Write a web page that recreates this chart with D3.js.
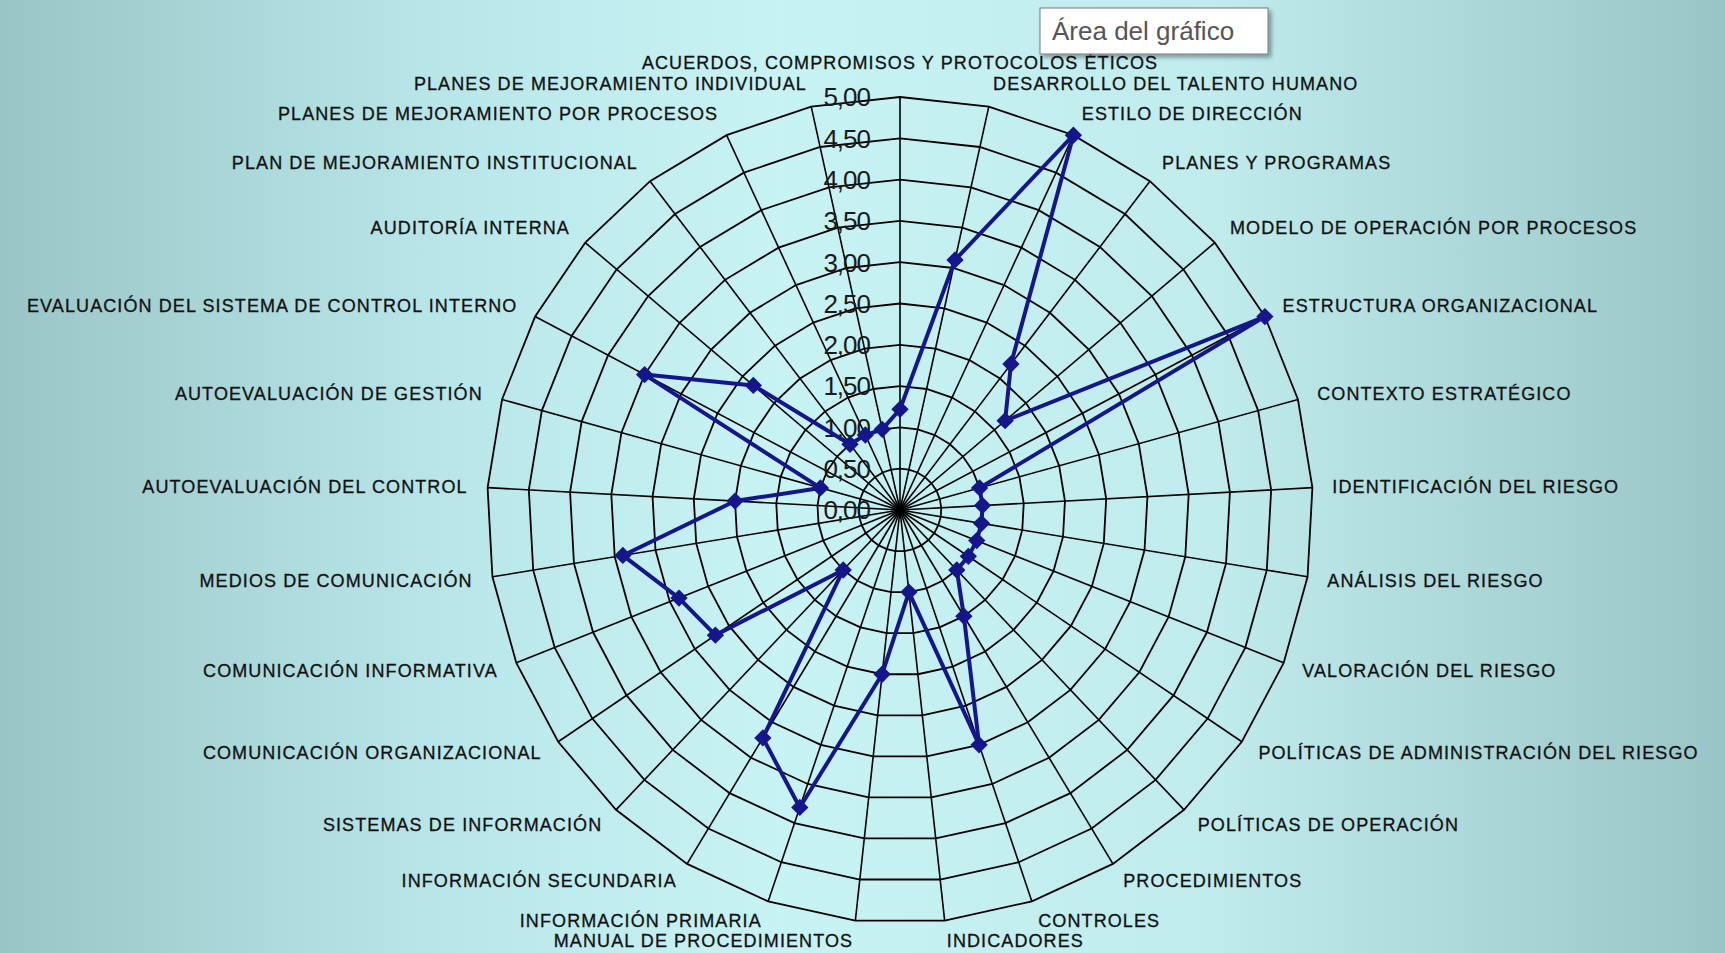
<!DOCTYPE html>
<html>
<head>
<meta charset="utf-8">
<script src="https://cdn.jsdelivr.net/npm/d3@7"></script>
<style>
  html, body { margin: 0; padding: 0; overflow: hidden; }
  body { width: 1725px; height: 953px; }
  text { font-family: "Liberation Sans", Arial, sans-serif; }
</style>
</head>
<body>
<div id="radar"></div>
<script>
// categories, clockwise from the top
var categories = [
  "ACUERDOS, COMPROMISOS Y PROTOCOLOS ÉTICOS",
  "DESARROLLO DEL TALENTO HUMANO",
  "ESTILO DE DIRECCIÓN",
  "PLANES Y PROGRAMAS",
  "MODELO DE OPERACIÓN POR PROCESOS",
  "ESTRUCTURA ORGANIZACIONAL",
  "CONTEXTO ESTRATÉGICO",
  "IDENTIFICACIÓN DEL RIESGO",
  "ANÁLISIS DEL RIESGO",
  "VALORACIÓN DEL RIESGO",
  "POLÍTICAS DE ADMINISTRACIÓN DEL RIESGO",
  "POLÍTICAS DE OPERACIÓN",
  "PROCEDIMIENTOS",
  "CONTROLES",
  "INDICADORES",
  "MANUAL DE PROCEDIMIENTOS",
  "INFORMACIÓN PRIMARIA",
  "INFORMACIÓN SECUNDARIA",
  "SISTEMAS DE INFORMACIÓN",
  "COMUNICACIÓN ORGANIZACIONAL",
  "COMUNICACIÓN INFORMATIVA",
  "MEDIOS DE COMUNICACIÓN",
  "AUTOEVALUACIÓN DEL CONTROL",
  "AUTOEVALUACIÓN DE GESTIÓN",
  "EVALUACIÓN DEL SISTEMA DE CONTROL INTERNO",
  "AUDITORÍA INTERNA",
  "PLAN DE MEJORAMIENTO INSTITUCIONAL",
  "PLANES DE MEJORAMIENTO POR PROCESOS",
  "PLANES DE MEJORAMIENTO INDIVIDUAL"
];

// series values
var scores = [
  1.22, 3.1, 5.0, 2.22, 1.67, 5.0, 1.0, 1.0, 1.0, 1.0,
  1.0, 1.0, 1.5, 3.0, 1.0, 2.0, 3.8, 3.22, 1.0, 2.7,
  2.88, 3.4, 2.0, 1.0, 3.5, 2.33, 1.0, 1.0, 1.0
];

// radial tick values and their labels
var ticks = [0, 0.5, 1, 1.5, 2, 2.5, 3, 3.5, 4, 4.5, 5];
var tickLabels = ["0,00", "0,50", "1,00", "1,50", "2,00", "2,50", "3,00", "3,50", "4,00", "4,50", "5,00"];

var width = 1725;
var height = 953;
var cx = 900, cy = 510;
var outer = 413;

var svg = d3.select('#radar').append('svg')
  .attr("width", width)
  .attr("height", height);

// background
var defs = svg.append("defs");
var bg = defs.append("linearGradient").attr("id", "bg")
  .attr("x1", "0%").attr("x2", "100%").attr("y1", "0%").attr("y2", "0%");
bg.append("stop").attr("offset", "0%").attr("stop-color", "#9ac5c7");
bg.append("stop").attr("offset", "25%").attr("stop-color", "#b8e6e8");
bg.append("stop").attr("offset", "45%").attr("stop-color", "#c8f3f5");
bg.append("stop").attr("offset", "70%").attr("stop-color", "#c0ecee");
bg.append("stop").attr("offset", "100%").attr("stop-color", "#9ac5c7");
svg.append("rect").attr("width", width).attr("height", height).attr("fill", "url(#bg)");

var shadow = defs.append("filter").attr("id", "shadow")
  .attr("x", "-10%").attr("y", "-20%").attr("width", "130%").attr("height", "160%");
shadow.append("feDropShadow").attr("dx", 3).attr("dy", 3).attr("stdDeviation", 2)
  .attr("flood-color", "#000").attr("flood-opacity", 0.35);

//scalers
var angle = d3.scalePoint()
  .domain(d3.range(categories.length))
  .range([0, 2 * Math.PI * (categories.length - 1) / categories.length]);
var r = d3.scaleLinear().domain([0, 5]).range([0, outer]);

var g = svg.append("g").attr("transform", "translate(" + cx + "," + cy + ")");

// rings
var ring = d3.lineRadial()
  .angle(function(d) { return angle(d); })
  .curve(d3.curveLinearClosed);
g.selectAll(".ring")
  .data(ticks.slice(1))
  .enter()
  .append("path")
  .attr("class", "ring")
  .attr("d", function(t) { return ring.radius(r(t))(d3.range(categories.length)); })
  .attr("fill", "none")
  .attr("stroke", "#000")
  .attr("stroke-width", 1.8);

// spokes
g.selectAll(".spoke")
  .data(d3.range(categories.length))
  .enter()
  .append("line")
  .attr("class", "spoke")
  .attr("x1", 0).attr("y1", 0)
  .attr("x2", function(i) { return r(5) * Math.sin(angle(i)); })
  .attr("y2", function(i) { return -r(5) * Math.cos(angle(i)); })
  .attr("stroke", "#000")
  .attr("stroke-width", 1.6);

// tick labels along the top axis
g.selectAll(".tick")
  .data(ticks)
  .enter()
  .append("text")
  .attr("class", "tick")
  .attr("x", -30)
  .attr("y", function(t) { return -r(t); })
  .attr("dy", "0.36em")
  .attr("text-anchor", "end")
  .attr("font-size", 26)
  .attr("letter-spacing", -1)
  .attr("fill", "#1a1a1a")
  .text(function(t, i) { return tickLabels[i]; });

// category labels
g.selectAll(".cat")
  .data(categories)
  .enter()
  .append("text")
  .attr("class", "cat")
  .attr("x", function(d, i) { return (r(5) + 20) * Math.sin(angle(i)); })
  .attr("y", function(d, i) {
    var a = angle(i);
    var y = -(r(5) + 20) * Math.cos(a);
    if (Math.abs(Math.sin(a)) < 0.05) return y - 14;
    return Math.cos(a) > 0 ? y - 4 * Math.cos(a) : y;
  })
  .attr("dy", "0.36em")
  .attr("text-anchor", function(d, i) {
    var s = Math.sin(angle(i));
    if (Math.abs(s) < 0.05) return "middle";
    return s > 0 ? "start" : "end";
  })
  .attr("font-size", 18)
  .attr("letter-spacing", 1.1)
  .attr("fill", "#111")
  .attr("stroke", "#111")
  .attr("stroke-width", 0.3)
  .text(function(d) { return d; });

// series
var line = d3.lineRadial()
  .angle(function(d, i) { return angle(i); })
  .radius(function(d) { return r(d); })
  .curve(d3.curveLinearClosed);
g.append("path")
  .datum(scores)
  .attr("d", line)
  .attr("fill", "none")
  .attr("stroke", "#16168c")
  .attr("stroke-width", 4)
  .attr("stroke-linejoin", "round");

g.selectAll(".mark")
  .data(scores)
  .enter()
  .append("path")
  .attr("class", "mark")
  .attr("d", d3.symbol().type(d3.symbolSquare).size(150))
  .attr("transform", function(d, i) {
    var a = angle(i);
    return "translate(" + (r(d) * Math.sin(a)) + "," + (-r(d) * Math.cos(a)) + ") rotate(45)";
  })
  .attr("fill", "#16168c");

// "Área del gráfico" tooltip
var tip = svg.append("g").attr("transform", "translate(1040,8)");
tip.append("rect")
  .attr("width", 228).attr("height", 46)
  .attr("fill", "#fff")
  .attr("stroke", "#777")
  .attr("filter", "url(#shadow)");
tip.append("text")
  .attr("x", 12).attr("y", 32)
  .attr("font-family", "'Open Sans', 'Noto Sans', sans-serif")
  .attr("font-size", 26)
  .attr("fill", "#555")
  .text("Área del gráfico");
</script>
</body>
</html>
